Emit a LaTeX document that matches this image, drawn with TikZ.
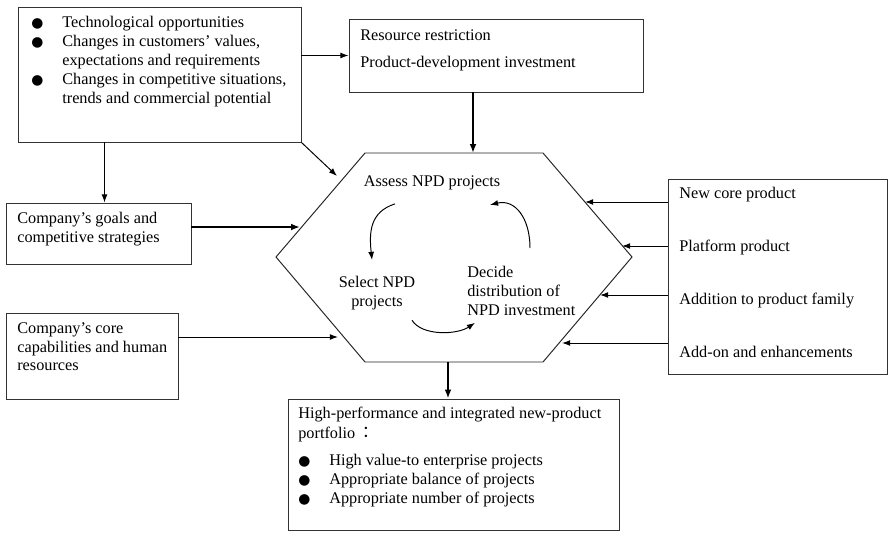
\documentclass[tikz,border=0pt]{standalone}
\usepackage{fontspec}
\setmainfont{Liberation Serif}
\newfontfamily\symfont{DejaVu Sans}
\newfontfamily\cjk{Noto Sans CJK TC}
\usepackage{tikz}
\usetikzlibrary{shapes.geometric, arrows.meta, positioning, calc, fit}
\newlength\pxu
\setlength\pxu{0.615pt}
\newcommand\bul{\makebox[31\pxu][l]{\symfont\fontsize{8.5}{9}\selectfont ●}}
\tikzstyle{frame} = [rectangle,
inner sep=0pt,
draw=black!80,
line width=0.6pt]
\tikzstyle{txt} = [inner sep=0pt,
align=left,
font=\fontsize{10}{11.6}\selectfont]
\tikzstyle{hexline} = [draw=black!85, line width=0.6pt]
\tikzstyle{arrow} = [line width=0.6pt,-{Latex[length=5pt,width=3.6pt]}]
\tikzstyle{bigarrow} = [line width=1.2pt,-{Latex[length=5.5pt,width=4.2pt]}]
\begin{document}
\begin{tikzpicture}[x=\pxu, y=-\pxu]
            \useasboundingbox (0,0) rectangle (888,532);

            % boxes round the hexagon
            \node (opp) [frame, fit={(18,7) (301,142)}] {};
            \node (res) [frame, fit={(349,19) (643,92)}] {};
            \node (goals) [frame, fit={(6,203) (191,264)}] {};
            \node (core) [frame, fit={(6,313) (178,399)}] {};
            \node (prod) [frame, fit={(668,179) (887,374)}] {};
            \node (port) [frame, fit={(288,399) (619,530)}] {};

            \node (opp1) [txt, anchor=north west] at (31,16) {\bul Technological opportunities\\
                \bul Changes in customers’ values,\\
                \hspace*{31\pxu}expectations and requirements\\
                \bul Changes in competitive situations,\\
                \hspace*{31\pxu}trends and commercial potential};
            \node (res1) [txt, anchor=north west] at (360,29) {Resource restriction\\[5pt]
                Product-development investment};
            \node (goals1) [txt, anchor=north west] at (17,212) {Company’s goals and\\ competitive strategies};
            \node (core1) [txt, anchor=north west] at (17,322) {Company’s core\\ capabilities and human\\ resources};
            \node (prod1) [txt, anchor=north west] at (679,187) {New core product\\[21pt]
                Platform product\\[21pt]
                Addition to product family\\[21pt]
                Add-on and enhancements};
            \node (port1) [txt, anchor=north west] at (298,407) {High-performance and integrated new-product\\[0.8pt]
                portfolio\,{\cjk ：}\\[5pt]
                \bul High value-to enterprise projects\\
                \bul Appropriate balance of projects\\
                \bul Appropriate number of projects};

            % hexagon
            \coordinate (hw) at (276,257);
            \coordinate (hnw) at (365,153);
            \coordinate (hne) at (543,153);
            \coordinate (he) at (632,257);
            \coordinate (hse) at (543,362);
            \coordinate (hsw) at (365,362);
            \draw [hexline] (hw) -- (hnw) -- (hne) -- (he) -- (hse) -- (hsw) -- cycle;

            \node (assess) [txt, anchor=north] at (432,175) {Assess NPD projects};
            \node (select) [txt, align=center, anchor=north] at (377,276) {Select NPD\\ projects};
            \node (decide) [txt, anchor=north west] at (467,266) {Decide\\ distribution of\\ NPD investment};

            \draw [arrow] ([shift={(-37,14)}]assess.south) .. controls +(-25,8) and +(-3,-28) .. ([shift={(-5,-16)}]select.north);
            \draw [arrow] ([shift={(35,10)}]select.south) .. controls +(10,16) and +(-18,12) .. ([shift={(8,7)}]decide.south west);
            \draw [arrow] ([shift={(63,-18)}]decide.north west) .. controls +(0,-30) and +(25,-6) .. ([shift={(58,15)}]assess.south);

            % arrow ends on the hexagon
            \coordinate (tA) at (337,176);
            \coordinate (tG) at (300,227);
            \coordinate (tC) at (338,337);
            \coordinate (tN) at (585,202);
            \coordinate (tP) at (622,246);
            \coordinate (tF) at (600,295);
            \coordinate (tE) at (562,343);
            \coordinate (htop) at (473,153);
            \coordinate (hbot) at (448,362);

            \draw [arrow] (opp.east |- res.west) -- (res.west);
            \draw [bigarrow] (res.south -| htop) -- (htop);
            \draw [arrow] (opp.south east) -- (tA);
            \draw [arrow] ([xshift=6\pxu]goals.north |- opp.south) -- ([xshift=6\pxu]goals.north);
            \draw [bigarrow] (goals.east |- tG) -- (tG);
            \draw [arrow] (core.east |- tC) -- (tC);
            \draw [arrow] (prod.west |- tN) -- (tN);
            \draw [arrow] (prod.west |- tP) -- (tP);
            \draw [arrow] (prod.west |- tF) -- (tF);
            \draw [arrow] (prod.west |- tE) -- (tE);
            \draw [bigarrow] (hbot) -- (port.north -| hbot);
        \end{tikzpicture}
\end{document}
